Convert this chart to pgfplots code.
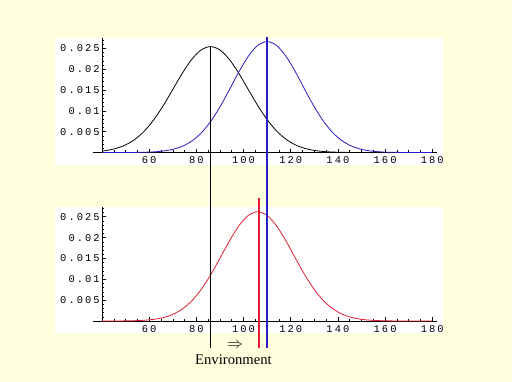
\documentclass[border=0pt]{standalone}
\usepackage{pgfplots}
\pgfplotsset{compat=1.18}
\usepackage{fontspec}
\setmainfont{Liberation Serif}
\newfontfamily\tickfont[LetterSpace=20]{Liberation Mono}
\definecolor{bgc}{RGB}{255,255,221}
\definecolor{cblue}{RGB}{40,30,200}
\definecolor{cred}{RGB}{225,30,50}
\pgfplotsset{mma/.style={
  scale only axis, width=251.25pt, xmin=40, xmax=182, ymin=0,
  axis lines=left, axis line style={-, line width=0.5pt},
  tick align=inside, major tick length=3pt, minor tick length=1.6pt,
  scaled y ticks=false, scaled x ticks=false,
  xtick={60,80,100,120,140,160,180}, xticklabels={60,80,100,120,140,160,180},
  minor xtick={45,50,...,180},
  ytick={0.005,0.01,0.015,0.02,0.025}, yticklabels={0.005,0.01,0.015,0.02,0.025},
  minor ytick={0.001,0.002,...,0.027},
  tick label style={font=\tickfont\fontsize{7.8}{8}\selectfont, inner sep=1.5pt},
  xticklabel style={yshift=-1.5pt},
  every tick/.style={black, line width=0.4pt},
  clip=false, anchor=south west,
  every axis plot/.append style={line width=0.6pt, no markers},
}}
\begin{document}
\begin{tikzpicture}
\fill[bgc] (0,0) rectangle (384pt,286.5pt);
\fill[white] (41.25pt,162.75pt) rectangle (332.25pt,258pt);
\fill[white] (41.25pt,36.75pt) rectangle (332.25pt,131.25pt);
\begin{axis}[mma, at={(76.5pt,172.1pt)}, height=85.9pt, ymax=0.02746]
\draw[line width=0.5pt] (axis cs:36.2,0) -- (axis cs:40,0);
\addplot[black, smooth] coordinates {
(40,0.00035) (42,0.00050) (46,0.00099) (50,0.00183) (54,0.00318) (58,0.00518)
(62,0.00790) (66,0.01128) (70,0.01511) (74,0.01897) (78,0.02231) (82,0.02459)
(86,0.02540) (90,0.02459) (94,0.02231) (98,0.01897) (102,0.01511) (106,0.01128)
(110,0.00790) (114,0.00518) (118,0.00318) (122,0.00183) (126,0.00099) (130,0.00050)
(134,0.00024) (138,0.00011) (142,0.00004) (146,0.00002) (150,0) (180,0)};
\addplot[cblue, smooth] coordinates {
(40,0) (50,0.00001) (54,0.00003) (58,0.00007) (62,0.00016) (66,0.00036) (70,0.00076)
(74,0.00149) (78,0.00273) (82,0.00466) (86,0.00740) (90,0.01094) (94,0.01506)
(98,0.01932) (102,0.02307) (106,0.02567) (110,0.02660) (114,0.02567) (118,0.02307)
(122,0.01932) (126,0.01506) (130,0.01094) (134,0.00740) (138,0.00466) (142,0.00273)
(146,0.00149) (150,0.00076) (154,0.00036) (158,0.00016) (162,0.00007) (166,0.00003)
(170,0.00001) (180,0)};
\end{axis}
\begin{axis}[mma, at={(76.5pt,45.75pt)}, height=85.5pt, ymax=0.02734]
\draw[line width=0.5pt] (axis cs:36.2,0) -- (axis cs:40,0);
\addplot[cred, smooth] coordinates {
(40,0) (46,0.00001) (50,0.00003) (54,0.00008) (58,0.00018) (62,0.00040) (66,0.00082)
(70,0.00158) (74,0.00286) (78,0.00480) (82,0.00753) (86,0.01102) (90,0.01505)
(94,0.01918) (98,0.02281) (102,0.02531) (106,0.02620) (110,0.02531) (114,0.02281)
(118,0.01918) (122,0.01505) (126,0.01102) (130,0.00753) (134,0.00480) (138,0.00286)
(142,0.00158) (146,0.00082) (150,0.00040) (154,0.00018) (158,0.00008) (162,0.00003)
(166,0.00001) (180,0)};
\addplot[draw=black, line width=0.75pt] coordinates {(86,0.0657) (86,-0.0065)};
\addplot[color=cblue, line width=1pt] coordinates {(110,0.0681) (110,-0.0065)};
\addplot[color=cred, line width=1pt] coordinates {(106.6,0.0295) (106.6,-0.0065)};
\end{axis}
\node[inner sep=0pt] at (176.25pt,27.5pt) {\fontsize{11.5}{12}\selectfont$\Rightarrow$};
\node[inner sep=0pt] at (175.1pt,17pt) {\fontsize{11}{12}\selectfont Environment};
\end{tikzpicture}
\end{document}
